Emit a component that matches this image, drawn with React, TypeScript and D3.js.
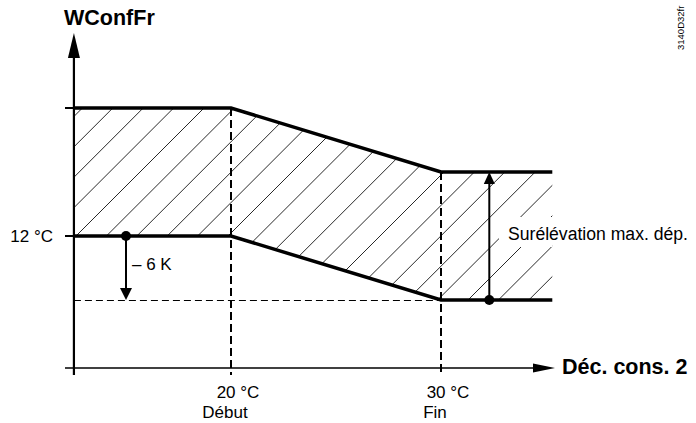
import React from "react";
import * as d3 from "d3";

// Data (x in °C of "Déc. cons. 2", y in °C of "WConfFr")
const xBreaks = [12.52, 20, 30, 35.3];
const lowerLimit = [12, 12, 6, 6];
const upperLimit = [24, 24, 18, 18];
const xTickValues = [20, 30];
const xTickLabels = ["20 °C", "30 °C"];
const xTickSubLabels = ["Début", "Fin"];
const yTickValues = [24, 12];
const yTickLabels = ["", "12 °C"];
const offsetAt = 15; // x position of the -6 K marker
const offsetValue = -6;
const riseAt = 32.3;

const W = 696;
const H = 423;
const FONT = "'Liberation Sans', Arial, Helvetica, sans-serif";

export default function App() {
  const x = d3.scaleLinear().domain([20, 30]).range([231, 441]);
  const y = d3.scaleLinear().domain([6, 24]).range([300, 108]);
  const x0 = x(xBreaks[0]);
  const xAxisY = 368;

  const lowerPts: [number, number][] = xBreaks.map((v, i) => [x(v), y(lowerLimit[i])]);
  const upperPts: [number, number][] = xBreaks.map((v, i) => [x(v), y(upperLimit[i])]);
  const line = d3.line();
  const area = d3
    .area<number>()
    .x((_, i) => x(xBreaks[i]))
    .y0((_, i) => y(lowerLimit[i]))
    .y1((_, i) => y(upperLimit[i]));

  // hatch lines (x + y = c)
  const hatch: number[] = [];
  const spacing = 30.4;
  for (let c = 312 - spacing * 20; c < 1200; c += spacing) hatch.push(c);

  const dashY = Math.round(y(lowerLimit[2])) + 0.5;
  const ox = x(offsetAt);
  const oy0 = y(12);
  const oy1 = y(12 + offsetValue);
  const rx = x(riseAt);

  return (
    <svg
      width={W}
      height={H}
      style={{ position: "absolute", left: 0, top: 0, background: "#fff" }}
      fontFamily={FONT}
    >
      <defs>
        <clipPath id="hatchClip">
          <path d={area(xBreaks.map((_, i) => i)) || ""} />
        </clipPath>
      </defs>
      <g clipPath="url(#hatchClip)">
        {hatch.map((c, i) => (
          <line key={i} x1={c - 100} y1={100} x2={c - 320} y2={320} stroke="#111" strokeWidth={0.9} />
        ))}
        <rect x={499} y={217} width={200} height={30} fill="#fff" />
      </g>

      {/* dashed guides */}
      {xTickValues.map((v, i) => (
        <line
          key={i}
          x1={x(v)}
          x2={x(v)}
          y1={y(upperLimit[i + 1])}
          y2={375}
          stroke="#000"
          strokeWidth={2}
          strokeDasharray="8,4"
        />
      ))}
      <line x1={x0} x2={x(30)} y1={dashY} y2={dashY} stroke="#000" strokeWidth={1} strokeDasharray="7,4" />

      {/* axes */}
      <line x1={x0} x2={x0} y1={50} y2={375} stroke="#000" strokeWidth={2.2} />
      <path d={`M${x0},33 L${x0 - 6},58 L${x0 + 6},58 Z`} fill="#000" />
      <line x1={65} x2={540} y1={xAxisY} y2={xAxisY} stroke="#000" strokeWidth={1.5} />
      <path d={`M555,${xAxisY} L533,${xAxisY - 4.5} L533,${xAxisY + 4.5} Z`} fill="#000" />
      {yTickValues.map((v, i) => (
        <line key={i} x1={65} x2={x0} y1={y(v)} y2={y(v)} stroke="#000" strokeWidth={2} />
      ))}

      {/* limit lines */}
      <path d={line(upperPts) || ""} fill="none" stroke="#000" strokeWidth={3.5} />
      <path d={line(lowerPts) || ""} fill="none" stroke="#000" strokeWidth={3.5} />

      {/* -6 K arrow */}
      <line x1={ox} x2={ox} y1={oy0} y2={oy1 - 10} stroke="#000" strokeWidth={2} />
      <path d={`M${ox},${oy1} L${ox - 6},${oy1 - 12} L${ox + 6},${oy1 - 12} Z`} fill="#000" />
      <circle cx={ox} cy={oy0} r={5} fill="#000" />
      <text x={132} y={270} fontSize={17}>– 6 K</text>

      {/* max rise arrow */}
      <line x1={rx} x2={rx} y1={y(6)} y2={y(18) + 10} stroke="#000" strokeWidth={2} />
      <path d={`M${rx},${y(18)} L${rx - 5.5},${y(18) + 12} L${rx + 5.5},${y(18) + 12} Z`} fill="#000" />
      <circle cx={rx} cy={y(6)} r={5} fill="#000" />
      <text x={508} y={240} fontSize={17.6}>Surélévation max. dép.</text>

      {/* labels */}
      <text x={64} y={25} fontSize={21.5} fontWeight="bold">WConfFr</text>
      <text x={562} y={374} fontSize={21.5} fontWeight="bold">Déc. cons. 2</text>
      {yTickValues.map((v, i) =>
        yTickLabels[i] ? (
          <text key={i} x={53} y={y(v) + 6} fontSize={17} textAnchor="end">{yTickLabels[i]}</text>
        ) : null
      )}
      {xTickValues.map((v, i) => (
        <g key={i}>
          <text x={x(v) + 7} y={398} fontSize={17} textAnchor="middle">{xTickLabels[i]}</text>
          <text x={x(v) - 6} y={418} fontSize={17} textAnchor="middle">{xTickSubLabels[i]}</text>
        </g>
      ))}
      <text transform="translate(684,50) rotate(-90)" fontSize={9.5}>3140D32fr</text>
    </svg>
  );
}
